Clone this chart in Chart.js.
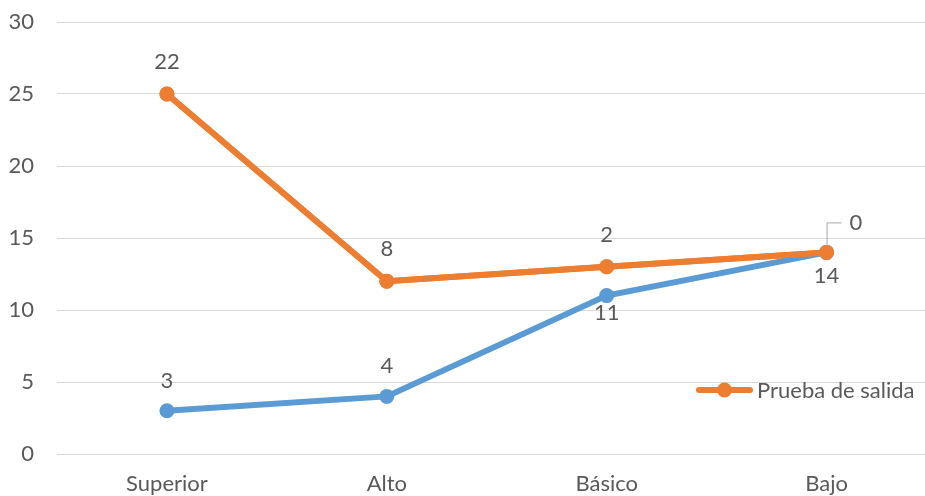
<!DOCTYPE html>
<html><head><meta charset="utf-8">
<script src="https://cdn.jsdelivr.net/npm/chart.js@4/dist/chart.umd.min.js"></script>
<style>
html,body{margin:0;padding:0;background:#fff;overflow:hidden;width:925px;height:496px;}
#wrap{width:944px;height:496px;position:relative;}
</style></head>
<body><div id="wrap"><canvas id="c" width="944" height="496"></canvas></div>
<script>
const categories = ["Superior", "Alto", "Básico", "Bajo"];
const entradaValues = [3, 4, 11, 14];
const salidaValues = [22, 8, 2, 0];
const yTicks = [0, 5, 10, 15, 20, 25, 30];
const seriesNames = ["Prueba de entrada", "Prueba de salida"];

const FONT = "Lato, 'Open Sans', sans-serif";
const FS = 22;
const TXT = '#595959';
const ORANGE = '#ED7D31', BLUE = '#5B9BD5';

const labelPlugin = {
  id: 'labels',
  afterDatasetsDraw(chart) {
    // draw the upper (stacked) series on top of the lower one
    chart.getDatasetMeta(1).controller.draw();
    const ctx = chart.ctx;
    ctx.save();
    ctx.font = FS + 'px ' + FONT;
    ctx.fillStyle = TXT;
    ctx.textAlign = 'center';
    ctx.textBaseline = 'middle';
    const mb = chart.getDatasetMeta(0).data;
    const mo = chart.getDatasetMeta(1).data;
    entradaValues.forEach((v, i) => {
      const p = mb[i];
      const below = i >= 2;
      ctx.fillText(String(v), p.x, below ? p.y + (i === 2 ? 17 : 24) : p.y - 30);
    });
    salidaValues.forEach((v, i) => {
      const p = mo[i];
      if (i === 3) {
        ctx.strokeStyle = '#a6a6a6';
        ctx.lineWidth = 1;
        ctx.beginPath();
        ctx.moveTo(p.x + 0.5, p.y - 7);
        ctx.lineTo(p.x + 0.5, p.y - 29.5);
        ctx.lineTo(p.x + 15, p.y - 29.5);
        ctx.stroke();
        ctx.textAlign = 'left';
        ctx.fillText(String(v), p.x + 23, p.y - 29);
        ctx.textAlign = 'center';
      } else {
        ctx.fillText(String(v), p.x, p.y - 32);
      }
    });
    // legend
    const ly = 390;
    ctx.strokeStyle = ORANGE; ctx.lineWidth = 6; ctx.lineCap = 'round';
    ctx.beginPath(); ctx.moveTo(699, ly); ctx.lineTo(750, ly); ctx.stroke();
    ctx.fillStyle = ORANGE;
    ctx.beginPath(); ctx.arc(724.5, ly, 7.5, 0, Math.PI * 2); ctx.fill();
    ctx.fillStyle = TXT; ctx.textAlign = 'left';
    ctx.fillText(seriesNames[1], 757, ly + 1);
    ctx.restore();
  }
};

new Chart(document.getElementById('c'), {
  type: 'line',
  data: {
    labels: categories,
    datasets: [
      { label: seriesNames[0], data: entradaValues, borderColor: BLUE, backgroundColor: BLUE,
        borderWidth: 6, pointRadius: 7.5, pointBackgroundColor: BLUE, pointBorderWidth: 0, tension: 0, fill: false },
      { label: seriesNames[1], data: salidaValues, borderColor: ORANGE, backgroundColor: ORANGE,
        borderWidth: 6, pointRadius: 7.5, pointBackgroundColor: ORANGE, pointBorderWidth: 0, tension: 0, fill: false }
    ]
  },
  options: {
    responsive: false, animation: false,
    layout: { padding: { top: 22, right: 0, left: 0, bottom: 0 } },
    plugins: { legend: { display: false }, tooltip: { enabled: false } },
    scales: {
      x: {
        offset: true,
        grid: { display: false, drawTicks: false },
        border: { display: false },
        ticks: { color: TXT, font: { family: FONT, size: FS }, padding: 17, maxRotation: 0 },
        afterFit(s) { s.height = 42; s.paddingLeft = 0; s.paddingRight = 0; }
      },
      y: {
        stacked: true, min: 0, max: 30,
        afterBuildTicks(s) { s.ticks = yTicks.map(v => ({ value: v })); },
        grid: { color: '#d9d9d9', lineWidth: 1, drawTicks: false },
        border: { display: false },
        ticks: { color: TXT, font: { family: FONT, size: FS }, padding: 23 },
        afterFit(s) { s.width = 57; s.paddingTop = 0; s.paddingBottom = 0; }
      }
    }
  },
  plugins: [labelPlugin]
});
</script></body></html>
